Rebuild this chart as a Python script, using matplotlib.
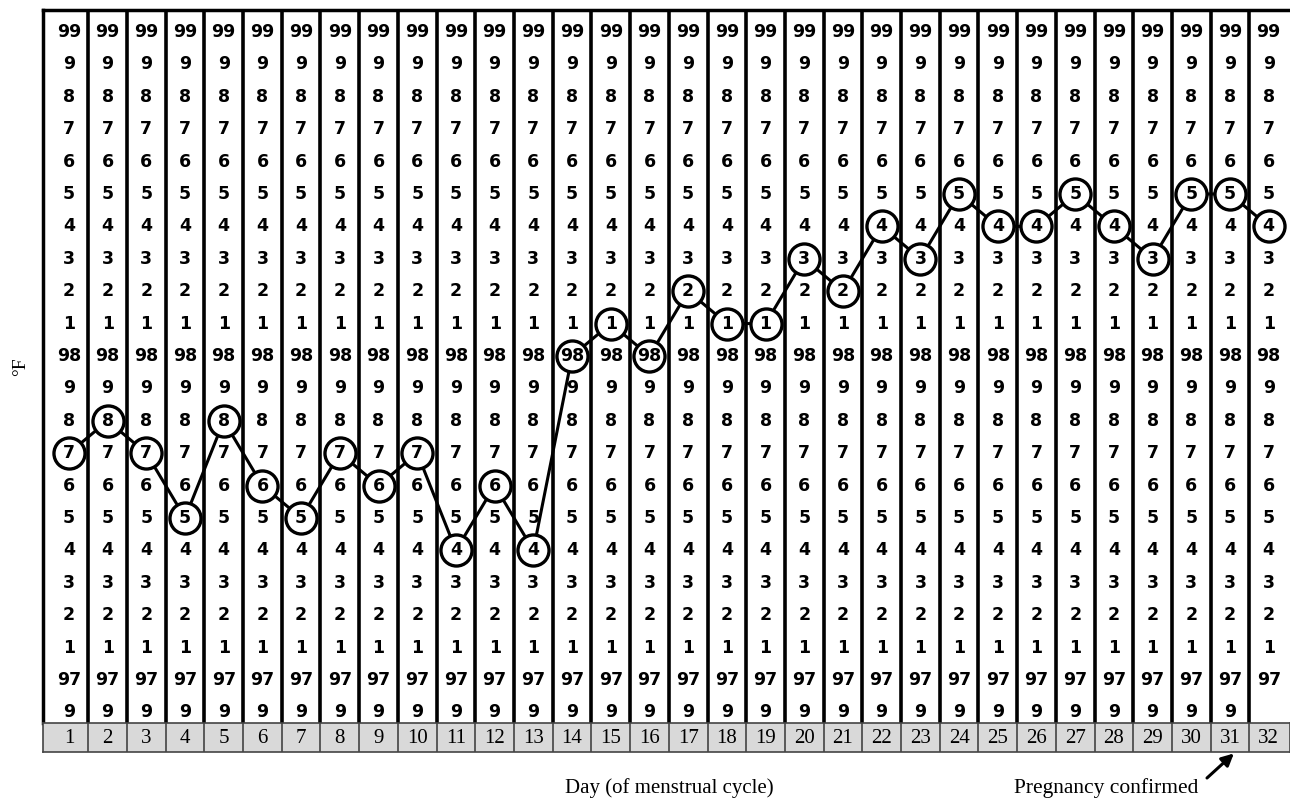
import numpy as np
import matplotlib.pyplot as plt

# data
days = np.arange(1, 33)
temps = [97.7, 97.8, 97.7, 97.5, 97.8, 97.6, 97.5, 97.7, 97.6, 97.7, 97.4, 97.6,
         97.4, 98.0, 98.1, 98.0, 98.2, 98.1, 98.1, 98.3, 98.2, 98.4, 98.3, 98.5,
         98.4, 98.4, 98.5, 98.4, 98.3, 98.5, 98.5, 98.4]
rows = np.round(np.arange(99.0, 96.85, -0.1), 1)  # 99.0 .. 96.9

W, H = 1290, 802
fig = plt.figure(figsize=(W / 100, H / 100), dpi=100)

# main grid
ax = fig.add_axes([43 / W, (H - 723) / H, (W - 43) / W, (723 - 10) / H])
ax.set_xlim(0.33, 32.55)
ax.set_ylim(96.867, 99.068)
ax.set_xticks([])
ax.set_yticks([])
for s in ['right', 'bottom']:
    ax.spines[s].set_visible(False)
for s in ['left', 'top']:
    ax.spines[s].set_linewidth(2.5)

for d in days[:-1]:
    ax.axvline(d + 0.5, color='black', lw=2.6, zorder=1)

# temperature line and circles
ax.plot(days, temps, color='black', lw=2.2, zorder=2)
ax.scatter(days, temps, s=500, facecolor='white', edgecolor='black', lw=2.4, zorder=3)

# digits in every column (last column stops at 97)
for d in days:
    for r in rows:
        if d == days[-1] and r < 97.0:
            continue
        if abs(r - round(r)) < 1e-6:
            lab = str(int(round(r)))
        else:
            lab = str(int(round(r * 10)) % 10)
        ax.text(d, r, lab, ha='center', va='center', fontsize=12.5,
                fontweight='bold', family='DejaVu Sans', zorder=4)

ax.set_ylabel('°F', family='Liberation Serif', fontsize=14, rotation=90, labelpad=10)

# day number boxes
axd = fig.add_axes([43 / W, (H - 752) / H, (W - 43) / W, 29 / H])
axd.set_xlim(0.33, 32.55)
axd.set_ylim(0, 1)
axd.set_facecolor('#d9d9d9')
axd.set_xticks([])
axd.set_yticks([])
for s in axd.spines.values():
    s.set_color('#444444')
    s.set_linewidth(1.2)
for d in days[:-1]:
    axd.axvline(d + 0.5, color='#444444', lw=1.2)
for d in days:
    axd.text(d, 0.45, str(d), ha='center', va='center', fontsize=15,
             family='Liberation Serif')

fig.text(669 / W, 1 - 788 / H, 'Day (of menstrual cycle)', ha='center', va='center',
         fontsize=15, family='Liberation Serif')
fig.text(1106 / W, 1 - 788 / H, 'Pregnancy confirmed', ha='center', va='center',
         fontsize=15.5, family='Liberation Serif')
axd.annotate('', xy=(31.1, -0.05), xycoords='data',
             xytext=(1207, H - 778), textcoords='figure pixels',
             annotation_clip=False,
             arrowprops=dict(arrowstyle='-|>', color='black', lw=2.2, mutation_scale=18,
                             shrinkA=0, shrinkB=0))

fig.savefig('out.png', dpi=100)
